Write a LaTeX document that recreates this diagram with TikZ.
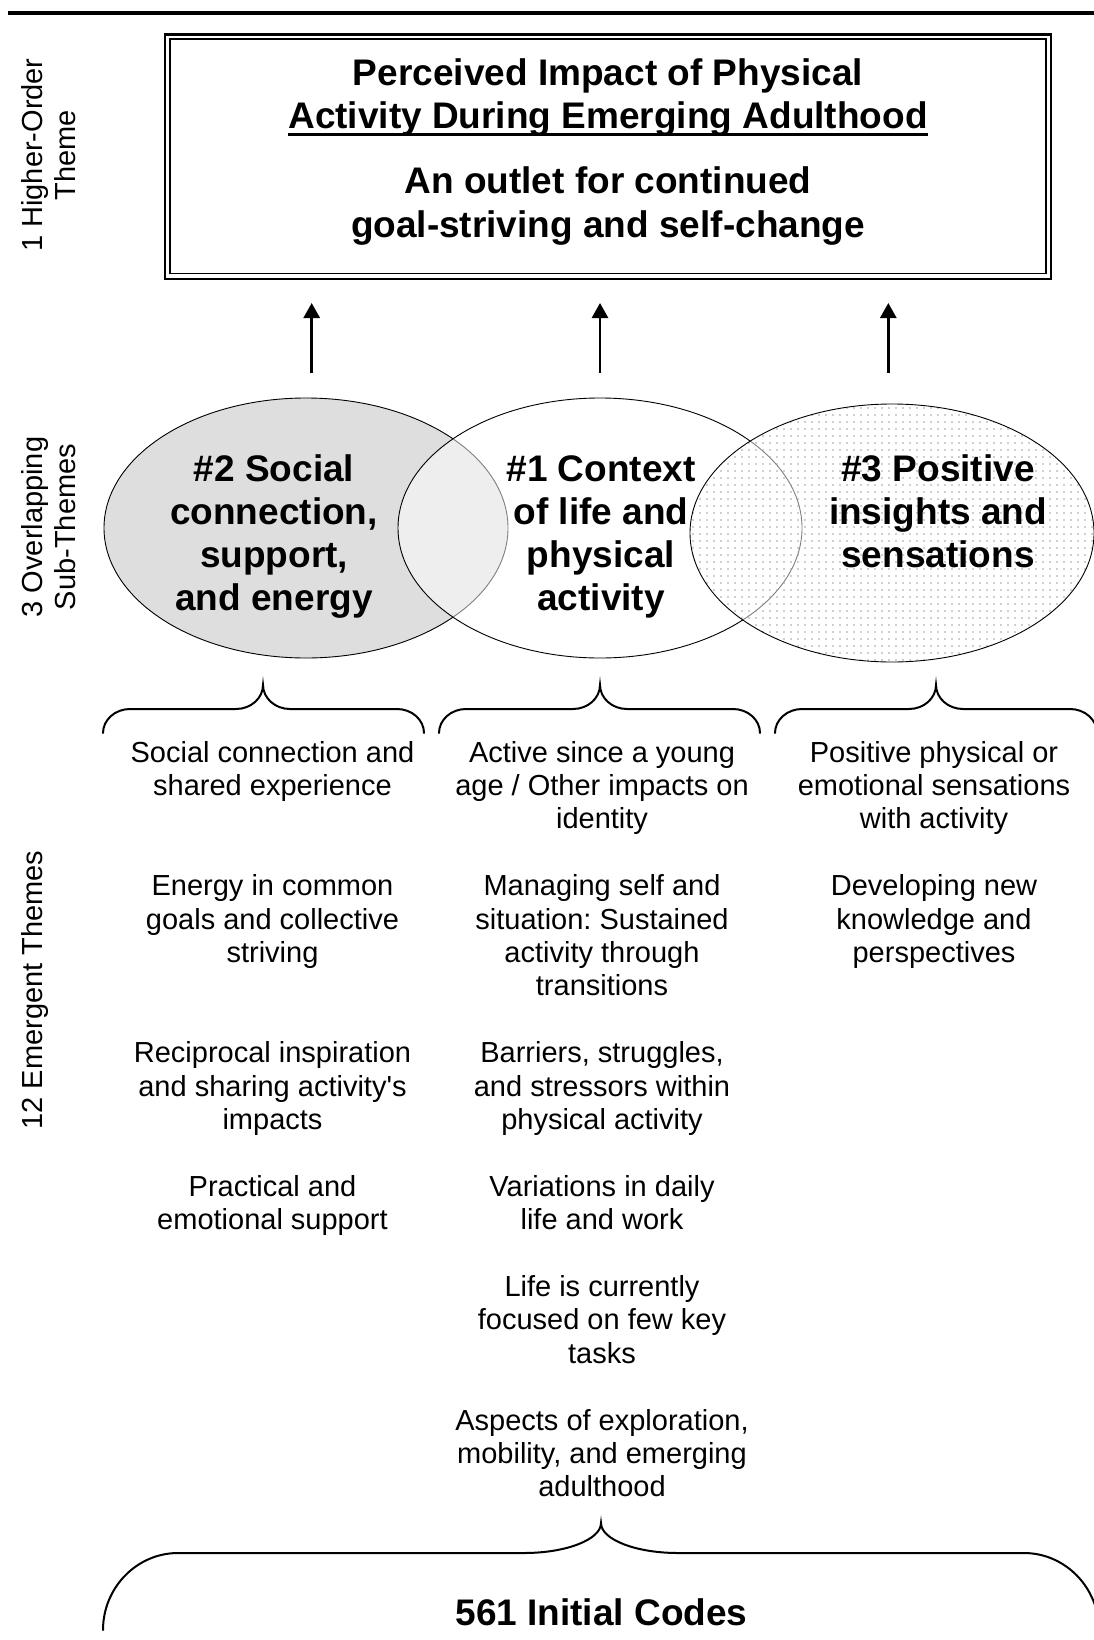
\documentclass[tikz,border=0pt]{standalone}
\usepackage{fontspec}
\setmainfont{Liberation Sans}
\usetikzlibrary{arrows.meta,patterns.meta,shapes.geometric}
\frenchspacing
\newsavebox\ulbox
\newcommand\myul[1]{\sbox\ulbox{#1}\rlap{\rule[-6.6pt]{\wd\ulbox}{2.6pt}}\usebox\ulbox}
% #1 x left end, #2 x tip, #3 x right end, #4 y tip, #5 y flat, #6 y ends, #7 end radius, #8 tip radius
\newcommand\tbrace[8]{%
\draw[bracestyle] (#1,#6) .. controls (#1,{#5+0.45*(#6-#5)}) and ({#1+0.45*#7},#5) .. ({#1+#7},#5)
 -- ({#2-#8},#5) .. controls ({#2-0.45*#8},#5) and (#2,{#5-0.45*(#5-#4)}) .. (#2,#4)
 .. controls (#2,{#5-0.45*(#5-#4)}) and ({#2+0.45*#8},#5) .. ({#2+#8},#5)
 -- ({#3-#7},#5) .. controls ({#3-0.45*#7},#5) and (#3,{#5+0.45*(#6-#5)}) .. (#3,#6);}
\begin{document}
\begin{tikzpicture}[x=1pt,y=-1pt,
  bracestyle/.style={line width=2pt,line cap=round},
  body/.style={font=\fontsize{29}{33.4}\selectfont,align=center,anchor=base,inner sep=0pt},
  elabel/.style={font=\fontsize{37}{43}\selectfont\bfseries,align=center,anchor=base,inner sep=0pt},
  boxtext/.style={font=\fontsize{37}{43.5}\selectfont\bfseries,align=center,anchor=base,inner sep=0pt},
  sidelabel/.style={font=\fontsize{29}{33.4}\selectfont,align=center,rotate=90,anchor=base,inner sep=0pt},
  venn/.style={ellipse,draw,line width=0.9pt,minimum width=404pt,minimum height=260pt,inner sep=0pt},
  uparrow/.style={line width=2.8pt,-{Triangle[width=16pt,length=15pt]}}]
\useasboundingbox (0,0) rectangle (1094,1640);
\fill[white] (0,0) rectangle (1094,1640);
% top rule
\coordinate (ruleL) at (7.7,13);
\coordinate (ruleR) at (1094,13);
\draw[line width=4pt] (ruleL) -- (ruleR);
% side labels (anchor = baseline of the last line)
\node[sidelabel] (lab1) at (75.4,155) {1 Higher-Order\\Theme};
\node[sidelabel] (lab2) at (75.4,527) {3 Overlapping\\Sub-Themes};
\node[sidelabel] (lab3) at (42,990) {12 Emergent Themes};
% top box
\node[draw,line width=2.3pt,minimum width=886pt,minimum height=244.5pt,inner sep=0pt] (boxout) at (608,156.75) {};
\node[draw,line width=1.7pt,minimum width=876pt,minimum height=234.3pt,inner sep=0pt] (boxin) at (608,156.35) {};
\node[boxtext] (title) at (608,129) {Perceived Impact of Physical\\\myul{Activity During Emerging Adulthood}};
\node[boxtext] (subtitle) at (608,237) {An outlet for continued\\goal-striving and self-change};
% arrows
\foreach \i/\x in {a/311.7,b/600,c/888.3}{
  \coordinate (\i s) at (\x,372.7);
  \coordinate (\i e) at (\x,303);
  \draw[uparrow] (\i s) -- (\i e);
}
% ellipses
\node[venn,fill=black!13] (e2) at (306,528) {};
\node[venn,fill=white,fill opacity=0.5,draw opacity=1] (e1) at (600,528) {};
\node[venn,preaction={fill=white,fill opacity=0.5},pattern={Dots[distance=7pt,radius=0.9pt]},pattern color=black!38,minimum height=258pt] (e3) at (892,533) {};
\node[elabel] (t2) at (274,610) {\#2 Social\\connection,\\support,\\and energy};
\node[elabel] (t1) at (601,610) {\#1 Context\\of life and\\physical\\activity};
\node[elabel] (t3) at (938,567) {\#3 Positive\\insights and\\sensations};
% braces
\tbrace{103}{263}{424}{685}{709}{733}{27}{27}
\tbrace{439}{600}{760}{685}{709}{733}{27}{27}
\tbrace{775}{936}{1097}{685}{709}{733}{27}{27}
% emergent themes (anchor = baseline of last line; line L at 762+L*33.4)
\node[body] (c1a) at (272.5,{762+1*33.4}) {Social connection and\\shared experience};
\node[body] (c1b) at (272.5,{762+6*33.4}) {Energy in common\\goals and collective\\striving};
\node[body] (c1c) at (272.5,{762+11*33.4}) {Reciprocal inspiration\\and sharing activity\textquotesingle s\\impacts};
\node[body] (c1d) at (272.5,{762+14*33.4}) {Practical and\\emotional support};
\node[body] (c2a) at (602,{762+2*33.4}) {Active since a young\\age / Other impacts on\\identity};
\node[body] (c2b) at (602,{762+7*33.4}) {Managing self and\\situation: Sustained\\activity through\\transitions};
\node[body] (c2c) at (602,{762+11*33.4}) {Barriers, struggles,\\and stressors within\\physical activity};
\node[body] (c2d) at (602,{762+14*33.4}) {Variations in daily\\life and work};
\node[body] (c2e) at (602,{762+18*33.4}) {Life is currently\\focused on few key\\tasks};
\node[body] (c2f) at (602,{762+22*33.4}) {Aspects of exploration,\\mobility, and emerging\\adulthood};
\node[body] (c3a) at (934,{762+2*33.4}) {Positive physical or\\emotional sensations\\with activity};
\node[body] (c3b) at (934,{762+6*33.4}) {Developing new\\knowledge and\\perspectives};
% bottom brace
\tbrace{103}{601}{1099}{1523}{1553}{1630}{75}{77}
\node[elabel] (codes) at (601.5,1625) {561 Initial Codes};
\end{tikzpicture}
\end{document}
